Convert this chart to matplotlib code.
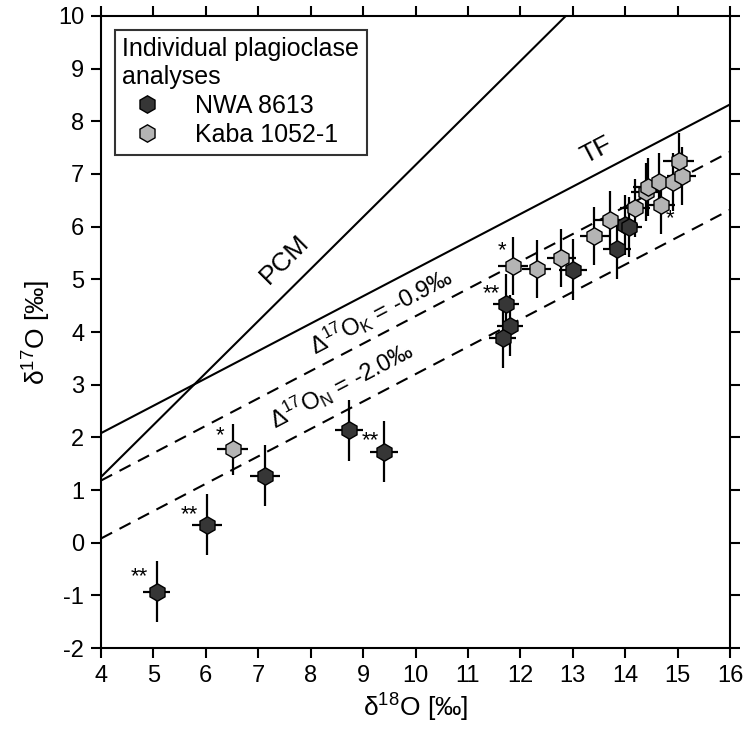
import matplotlib
matplotlib.use("Agg")
import matplotlib.pyplot as plt
from matplotlib.lines import Line2D
import numpy as np

plt.rcParams['font.family'] = ['Liberation Sans', 'DejaVu Sans']
plt.rcParams['mathtext.fontset'] = 'custom'
plt.rcParams['mathtext.rm'] = 'Liberation Sans'
plt.rcParams['mathtext.it'] = 'Liberation Sans:italic'
plt.rcParams['axes.unicode_minus'] = False

# NWA 8613 plagioclase analyses
nwa_d18 = [5.06, 6.02, 7.13, 8.73, 9.40, 11.73, 11.80, 11.66, 13.00, 13.84, 13.99, 14.08]
nwa_d17 = [-0.93, 0.34, 1.27, 2.13, 1.73, 4.53, 4.12, 3.89, 5.18, 5.58, 6.03, 5.99]
nwa_xerr = [0.25, 0.28, 0.29, 0.27, 0.27, 0.25, 0.25, 0.25, 0.27, 0.27, 0.25, 0.25]
nwa_yerr = [0.58, 0.58, 0.58, 0.58, 0.58, 0.58, 0.58, 0.58, 0.58, 0.58, 0.57, 0.57]

# Kaba 1052-1 plagioclase analyses
kaba_d18 = [6.51, 11.86, 12.31, 12.78, 13.41, 13.71, 14.19, 14.40, 14.43, 14.64, 14.68, 14.92, 15.08, 15.02]
kaba_d17 = [1.77, 5.25, 5.20, 5.40, 5.83, 6.13, 6.35, 6.65, 6.76, 6.85, 6.41, 6.85, 6.96, 7.25]
kaba_xerr = [0.30, 0.28, 0.28, 0.28, 0.28, 0.28, 0.28, 0.28, 0.28, 0.28, 0.28, 0.28, 0.28, 0.30]
kaba_yerr = [0.49, 0.55, 0.55, 0.55, 0.55, 0.55, 0.55, 0.55, 0.55, 0.55, 0.55, 0.55, 0.55, 0.52]

# reference lines: slope, intercept
line_names = ['TF', 'PCM', 'K', 'N']
line_slopes = [0.52, 0.987, 0.52, 0.52]
line_intercepts = [0.0, -2.70, -0.9, -2.0]

# asterisk annotations (x, y, text)
star_x = [4.73, 5.69, 6.27, 9.13, 11.44, 11.65, 14.86]
star_y = [-0.65, 0.53, 2.04, 1.94, 4.73, 5.54, 6.16]
star_txt = ['**', '**', '*', '**', '**', '*', '*']

xticks = list(range(4, 17))
yticks = list(range(-2, 11))

fig = plt.figure(figsize=(7.5, 7.47), dpi=100)
ax = fig.add_axes([0.1347, 0.1325, 0.8386, 0.8461])
ax.set_xlim(4, 16)
ax.set_ylim(-2, 10)

xs = np.array([4.0, 16.0])
styles = {'TF': '-', 'PCM': '-', 'K': (0, (6, 4)), 'N': (0, (6, 4))}
for name, m, b in zip(line_names, line_slopes, line_intercepts):
    ax.plot(xs, m * xs + b, color='black', lw=1.5, linestyle=styles[name], zorder=2)

dark = '#363636'
light = '#b4b4b4'
ax.errorbar(nwa_d18, nwa_d17, xerr=nwa_xerr, yerr=nwa_yerr, fmt='none',
            ecolor='black', elinewidth=1.6, capsize=0, zorder=3)
ax.errorbar(kaba_d18, kaba_d17, xerr=kaba_xerr, yerr=kaba_yerr, fmt='none',
            ecolor='black', elinewidth=1.6, capsize=0, zorder=3)
ax.plot(nwa_d18, nwa_d17, 'h', ms=12.5, mfc=dark, mec='black', mew=1.0, ls='none', zorder=4)
ax.plot(kaba_d18, kaba_d17, 'h', ms=12.5, mfc=light, mec='black', mew=1.0, ls='none', zorder=4)

for sx, sy, st in zip(star_x, star_y, star_txt):
    ax.text(sx, sy, st, ha='center', va='center', fontsize=16)

ax.text(7.51, 5.37, 'PCM', rotation=45, ha='center', va='center', fontsize=19)
ax.text(13.45, 7.45, 'TF', rotation=27.6, ha='center', va='center', fontsize=19)
ax.text(9.34, 4.38, r'$\Delta^{17}$O$_{\mathrm{K}}$ = -0.9‰', rotation=27.6,
        ha='center', va='center', fontsize=17)
ax.text(8.6, 2.98, r'$\Delta^{17}$O$_{\mathrm{N}}$ = -2.0‰', rotation=27.6,
        ha='center', va='center', fontsize=17)

ax.set_xticks(xticks)
ax.set_yticks(yticks)
ax.tick_params(direction='out', length=7, width=1.5, labelsize=17, top=True, right=True, pad=5)
for s in ax.spines.values():
    s.set_linewidth(1.5)
ax.set_xlabel('δ$^{18}$O [‰]', fontsize=19)
ax.set_ylabel('δ$^{17}$O [‰]', fontsize=19)

handles = [Line2D([], [], marker='h', ms=12.5, mfc=dark, mec='black', ls='none'),
           Line2D([], [], marker='h', ms=12.5, mfc=light, mec='black', ls='none')]
leg = ax.legend(handles, ['NWA 8613', 'Kaba 1052-1'], title='Individual plagioclase\nanalyses',
                loc='upper left', fontsize=18, title_fontsize=18, frameon=True, fancybox=False,
                edgecolor='black', borderpad=0.3, handletextpad=0.9, labelspacing=0.2,
                bbox_to_anchor=(0.0, 1.0), borderaxespad=0.55, alignment='left')
leg.get_frame().set_linewidth(1.5)
leg.set_zorder(5)

fig.savefig('out.png', dpi=100)
